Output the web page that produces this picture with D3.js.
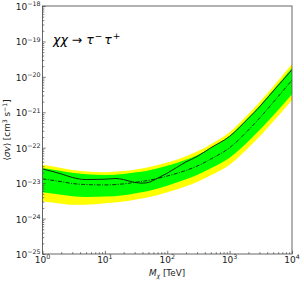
<!DOCTYPE html>
<html>
<head>
<meta charset="utf-8">
<script src="https://cdn.jsdelivr.net/npm/d3@7"></script>
<style>
  body { margin: 0; background: #fff; }
  svg { display: block; font-family: "DejaVu Sans", sans-serif; }
</style>
</head>
<body>
<svg id="chart"></svg>
<script>
// dark matter mass grid (TeV) for the expected limit + bands
var massTeV = [1, 2, 3, 5, 10, 20, 30, 50, 100, 200, 300, 500, 1000, 2000, 3000, 5000, 10000];
var expectedMedian = [1.32e-23, 1.10e-23, 9.77e-24, 9.12e-24, 8.91e-24, 9.55e-24, 1.05e-23, 1.20e-23, 1.59e-23, 2.29e-23, 3.02e-23, 4.79e-23, 1.00e-22, 3.16e-22, 6.76e-22, 1.91e-21, 8.13e-21];
var green1Hi = [2.69e-23, 2.19e-23, 1.95e-23, 1.78e-23, 1.70e-23, 1.82e-23, 2.00e-23, 2.29e-23, 3.09e-23, 4.57e-23, 6.17e-23, 1.00e-22, 2.19e-22, 7.08e-22, 1.51e-21, 4.27e-21, 1.82e-20];
var green1Lo = [5.50e-24, 4.68e-24, 4.27e-24, 4.07e-24, 4.17e-24, 4.57e-24, 5.13e-24, 6.03e-24, 8.51e-24, 1.29e-23, 1.70e-23, 2.63e-23, 5.25e-23, 1.51e-22, 3.09e-22, 8.13e-22, 3.24e-21];
var yellow2Hi = [3.31e-23, 2.69e-23, 2.34e-23, 2.14e-23, 2.04e-23, 2.19e-23, 2.40e-23, 2.82e-23, 3.80e-23, 5.75e-23, 7.76e-23, 1.26e-22, 2.75e-22, 8.91e-22, 1.91e-21, 5.37e-21, 2.29e-20];
var yellow2Lo = [3.02e-24, 2.63e-24, 2.45e-24, 2.45e-24, 2.69e-24, 3.02e-24, 3.39e-24, 3.98e-24, 5.50e-24, 8.13e-24, 1.07e-23, 1.66e-23, 3.31e-23, 1.00e-22, 2.04e-22, 5.50e-22, 2.24e-21];

// observed limit
var obsMass = [1, 2, 3, 5, 10, 15, 20, 30, 40, 50, 70, 100, 200, 300, 500, 1000, 2000, 3000, 5000, 10000];
var obsLimit = [2.51e-23, 1.82e-23, 1.45e-23, 1.26e-23, 1.29e-23, 1.35e-23, 1.26e-23, 1.05e-23, 1.00e-23, 1.05e-23, 1.38e-23, 1.91e-23, 3.98e-23, 5.62e-23, 1.00e-22, 2.09e-22, 6.76e-22, 1.41e-21, 3.98e-21, 1.58e-20];

var xTicks = [1, 10, 100, 1000, 10000];
var xExp = ["0", "1", "2", "3", "4"];
var yTicks = [1e-25, 1e-24, 1e-23, 1e-22, 1e-21, 1e-20, 1e-19, 1e-18];
var yExp = ["\u221225", "\u221224", "\u221223", "\u221222", "\u221221", "\u221220", "\u221219", "\u221218"];

var W = 304, H = 282;
var margin = {top: 6, right: 12, bottom: 28, left: 42.5};

var svg = d3.select('#chart').attr('width', W).attr('height', H);

var x = d3.scaleLog().domain([1, 1e4]).range([margin.left, W - margin.right]);
var y = d3.scaleLog().domain([1e-25, 1e-18]).range([H - margin.bottom, margin.top]);

svg.append('clipPath').attr('id', 'clip')
  .append('rect')
  .attr('x', margin.left).attr('y', margin.top)
  .attr('width', x.range()[1] - margin.left)
  .attr('height', y.range()[0] - margin.top);

var plot = svg.append('g').attr('clip-path', 'url(#clip)');

var idx = d3.range(massTeV.length);
function band(lo, hi) {
  return d3.area()
    .x(function(i){ return x(massTeV[i]); })
    .y0(function(i){ return y(lo[i]); })
    .y1(function(i){ return y(hi[i]); })
    .curve(d3.curveMonotoneX);
}

plot.append('path').datum(idx)
  .attr('fill', '#ffff00')
  .attr('d', band(yellow2Lo, yellow2Hi));
plot.append('path').datum(idx)
  .attr('fill', '#00ff00')
  .attr('d', band(green1Lo, green1Hi));

var medLine = d3.line()
  .x(function(i){ return x(massTeV[i]); })
  .y(function(i){ return y(expectedMedian[i]); })
  .curve(d3.curveMonotoneX);
plot.append('path').datum(idx)
  .attr('fill', 'none')
  .attr('stroke', '#000')
  .attr('stroke-width', 0.8)
  .attr('stroke-dasharray', '4,1.4,1,1.4')
  .attr('d', medLine);

var obsLine = d3.line()
  .x(function(i){ return x(obsMass[i]); })
  .y(function(i){ return y(obsLimit[i]); })
  .curve(d3.curveMonotoneX);
plot.append('path').datum(d3.range(obsMass.length))
  .attr('fill', 'none')
  .attr('stroke', '#111')
  .attr('stroke-width', 0.9)
  .attr('d', obsLine);

// frame
svg.append('rect')
  .attr('x', margin.left).attr('y', margin.top)
  .attr('width', x.range()[1] - margin.left)
  .attr('height', y.range()[0] - margin.top)
  .attr('fill', 'none')
  .attr('stroke', '#555')
  .attr('stroke-width', 0.9);

// minor ticks
var xMinor = [], yMinor = [];
xTicks.slice(0, -1).forEach(function(t){ for (var k = 2; k < 10; k++) xMinor.push(t * k); });
yTicks.slice(0, -1).forEach(function(t){ for (var k = 2; k < 10; k++) yMinor.push(t * k); });

var gxMinor = svg.append('g')
  .attr('transform', 'translate(0,' + y.range()[0] + ')')
  .call(d3.axisBottom(x).tickValues(xMinor).tickSize(-1.8).tickFormat(''));
var gyMinor = svg.append('g')
  .attr('transform', 'translate(' + margin.left + ',0)')
  .call(d3.axisLeft(y).tickValues(yMinor).tickSize(-1.8).tickFormat(''));

var gx = svg.append('g')
  .attr('transform', 'translate(0,' + y.range()[0] + ')')
  .call(d3.axisBottom(x).tickValues(xTicks).tickSize(-3.2).tickFormat(''));
var gy = svg.append('g')
  .attr('transform', 'translate(' + margin.left + ',0)')
  .call(d3.axisLeft(y).tickValues(yTicks).tickSize(-3.2).tickFormat(''));

[gxMinor, gyMinor, gx, gy].forEach(function(g){
  g.select('.domain').remove();
  g.selectAll('line').attr('stroke', '#444').attr('stroke-width', 0.7);
  g.selectAll('text').remove();
});

// tick labels with superscripts
xTicks.forEach(function(t, i){
  var txt = svg.append('text')
    .attr('x', x(t)).attr('y', 263)
    .attr('text-anchor', 'middle')
    .attr('font-size', 9).attr('fill', '#222');
  txt.append('tspan').text('10');
  txt.append('tspan').attr('dy', -3.6).attr('font-size', 6.3).text(xExp[i]);
});
yTicks.forEach(function(t, i){
  var txt = svg.append('text')
    .attr('x', 40.5).attr('y', y(t) + 4)
    .attr('text-anchor', 'end')
    .attr('font-size', 9).attr('fill', '#222');
  txt.append('tspan').text('10');
  txt.append('tspan').attr('dy', -3.6).attr('font-size', 6.3).text(yExp[i]);
});

// axis titles
var xl = svg.append('text')
  .attr('x', 167).attr('y', 276)
  .attr('text-anchor', 'middle')
  .attr('font-size', 8.8).attr('fill', '#222');
xl.append('tspan').attr('font-style', 'italic').text('M');
xl.append('tspan').attr('font-style', 'italic').attr('font-size', 6.2).attr('dy', 1.8).text('\u03c7');
xl.append('tspan').attr('dy', -1.8).text(' [TeV]');

var yl = svg.append('text')
  .attr('transform', 'translate(10,' + ((margin.top + y.range()[0]) / 2) + ') rotate(-90)')
  .attr('text-anchor', 'middle')
  .attr('font-size', 8.8).attr('fill', '#222');
yl.append('tspan').text('\u27e8');
yl.append('tspan').attr('font-style', 'italic').text('\u03c3v');
yl.append('tspan').text('\u27e9 [cm');
yl.append('tspan').attr('font-size', 6.2).attr('dy', -3.2).text('3');
yl.append('tspan').attr('dy', 3.2).text(' s');
yl.append('tspan').attr('font-size', 6.2).attr('dy', -3.2).text('\u22121');
yl.append('tspan').attr('dy', 3.2).text(']');

// process annotation
var ann = svg.append('text')
  .attr('x', 53).attr('y', 44)
  .attr('font-size', 12.5).attr('fill', '#000');
ann.append('tspan').attr('font-style', 'italic').text('\u03c7\u03c7');
ann.append('tspan').text(' \u2192 ');
ann.append('tspan').attr('font-style', 'italic').text('\u03c4');
ann.append('tspan').attr('font-size', 9).attr('dx', 1).attr('dy', -5).text('\u2212');
ann.append('tspan').attr('dx', 2).attr('dy', 5).attr('font-style', 'italic').text('\u03c4');
ann.append('tspan').attr('font-size', 9).attr('dx', 1).attr('dy', -5).text('+');
</script>
</body>
</html>
